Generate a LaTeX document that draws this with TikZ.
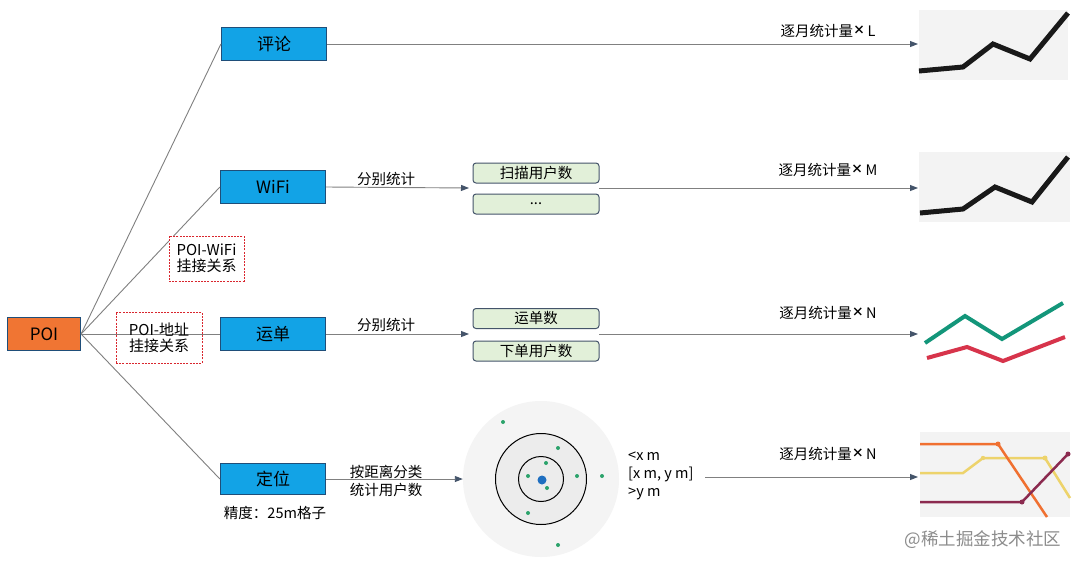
\documentclass[tikz,border=0pt]{standalone}
\usepackage{fontspec}
\setmainfont{Noto Sans CJK SC}
\usetikzlibrary{arrows.meta}
\definecolor{boxblue}{HTML}{12A3E6}
\definecolor{boxedge}{HTML}{1F4E79}
\definecolor{poiorange}{HTML}{F07533}
\definecolor{greenfill}{HTML}{E2F0D9}
\definecolor{greenedge}{HTML}{44546A}
\definecolor{conncol}{HTML}{808080}
\definecolor{tipcol}{HTML}{44546A}
\definecolor{chartbg}{HTML}{F3F3F3}
\definecolor{diskbg}{HTML}{F4F4F4}
\definecolor{ringbg}{HTML}{ECECEC}
\definecolor{dotblue}{HTML}{1F6FC0}
\definecolor{dotgreen}{HTML}{2BA36B}
\definecolor{cgreen}{HTML}{13967A}
\definecolor{cred}{HTML}{D7344B}
\definecolor{corange}{HTML}{F07030}
\definecolor{cyellow}{HTML}{EDD36B}
\definecolor{cpurple}{HTML}{8B2A4F}
\definecolor{dashred}{HTML}{D9262E}
\tikzset{
  bluebox/.style={draw=boxedge, fill=boxblue, line width=1.2pt, minimum width=105, minimum height=33, inner sep=0pt, font=\fontsize{17}{20}\selectfont},
  greenbox/.style={draw=greenedge, fill=greenfill, rounded corners=3pt, line width=1pt, minimum width=126, minimum height=20, inner sep=0pt, font=\fontsize{14.5}{17}\selectfont},
  redbox/.style={draw=dashred, dash pattern=on 2pt off 1.2pt, line width=1pt, inner sep=0pt, align=center, font=\fontsize{15}{18}\selectfont},
  conn/.style={draw=conncol, line width=0.9pt},
  arr/.style={conn, -{Triangle[length=8pt,width=6pt,color=tipcol]}},
  small/.style={inner sep=0pt, font=\fontsize{14.5}{18}\selectfont},
  chartline/.style={line width=5pt, draw=black!90},
}
\newcommand{\mulx}[1]{逐月统计量\raisebox{2pt}{\fontsize{12}{12}\selectfont\textbf{×}}\,#1}
\begin{document}
\begin{tikzpicture}[x=1pt,y=-1pt]
\useasboundingbox (0,0) rectangle (1080,566);
\fill[white] (0,0) rectangle (1080,566);

% main boxes
\node[bluebox, fill=poiorange, minimum width=73] (poi) at (44,334) {POI};
\node[bluebox] (pl) at (274,44) {评论};
\node[bluebox] (wifi) at (273,187) {WiFi};
\node[bluebox] (yd) at (273,334) {运单};
\node[bluebox, minimum height=31] (dw) at (273,479) {定位};

% connectors from POI
\draw[conn] (poi.east) -- (pl.west);
\draw[conn] (poi.east) -- (wifi.west);
\draw[conn] (poi.east) -- (yd.west);
\draw[conn] (poi.east) -- (dw.west);

% relation boxes
\node[redbox, fill=white, minimum width=75, minimum height=45] (rw) at (206.5,258.5) {POI-WiFi\\[-2pt]挂接关系};
\node[redbox, minimum width=86, minimum height=51] (ra) at (159,337.5) {POI-地址\\[-2pt]挂接关系};

% green boxes
\node[greenbox] (g1) at (536,173) {扫描用户数};
\node[greenbox] (g2) at (536,204) {...};
\node[greenbox] (g3) at (536,318.5) {运单数};
\node[greenbox] (g4) at (536,351) {下单用户数};

\coordinate (gin1) at (469,188);
\coordinate (gout1) at (599,188);
\coordinate (gin2) at (469,334);
\coordinate (gout2) at (599,334);

% charts (anchors)
\coordinate (c1) at (918,44);
\coordinate (c2) at (918,188);
\coordinate (c3) at (918,334);
\coordinate (c4) at (918,477);

% arrows
\draw[arr] (pl.east) -- (c1);
\draw[arr] (wifi.east) -- (gin1);
\draw[arr] (gout1) -- (c2);
\draw[arr] (yd.east) -- (gin2);
\draw[arr] (gout2) -- (c3);

\node[small] (l1) at (386,179) {分别统计};
\node[small] (l2) at (386,325) {分别统计};
\node[small] (m1) at (828,31) {\mulx{L}};
\node[small] (m2) at (828,170) {\mulx{M}};
\node[small] (m3) at (828,313) {\mulx{N}};
\node[small] (m4) at (828,454) {\mulx{N}};

% distance diagram
\node[circle, fill=diskbg, minimum size=156, inner sep=0pt] (disk) at (541,479) {};
\draw[black, fill=ringbg, line width=1pt] (541,479) circle (45.5);
\draw[black, line width=1pt] (541,479) circle (22.5);
\fill[dotblue] (542,480) circle (4.5);
\foreach \p in {(503,422),(558,448),(546,463),(528,476),(577,476),(602,476),(547,488),(528,513),(558,545)}
  \fill[dotgreen] \p circle (2);
\draw[arr] (dw.east) -- (dw.east -| disk.west);
\node[small, align=left, anchor=west] (dist) at (628,476) {<x m\\{}[x m, y m]\\{}>y m};
\coordinate (dout) at (705,477);
\draw[arr] (dout) -- (c4);
\node[small, align=left] (cls) at (386,481) {按距离分类\\统计用户数};
\node[small] (jd) at (275,513) {精度：25m格子};

% chart 1
\fill[chartbg] (919,10) rectangle (1068,80);
\draw[chartline] (919,71) -- (963,67) -- (993,44) -- (1030,59) -- (1068,13);
% chart 2
\fill[chartbg] (919,152) rectangle (1070,222);
\draw[chartline] (920,213) -- (963,209) -- (995,187) -- (1032,202) -- (1068,157);
% chart 3
\draw[cgreen, line width=4pt] (925,343) -- (965,316) -- (1002,339) -- (1063,303);
\draw[cred, line width=4pt] (927,358) -- (967,347) -- (1003,361) -- (1065,337);
% chart 4
\fill[chartbg] (920,432) rectangle (1070,517);
\draw[cyellow, line width=2.5pt] (920,473) -- (963,473) -- (983,458) -- (1045,458) -- (1070,498);
\fill[cyellow] (983,458) circle (2.2) (1045,458) circle (2.5);
\draw[corange, line width=2.5pt] (920,444) -- (998,444) -- (1047,517);
\fill[corange] (998,444) circle (2.5);
\draw[cpurple, line width=2.5pt] (920,502) -- (1022,502) -- (1068,454);
\fill[cpurple] (1022,502) circle (2.5) (1068,454) circle (2.5);

% watermark
\node[inner sep=0pt, text=black!45, font=\fontsize{17.5}{20}\selectfont] (wm) at (983,540) {@稀土掘金技术社区};
\end{tikzpicture}
\end{document}
